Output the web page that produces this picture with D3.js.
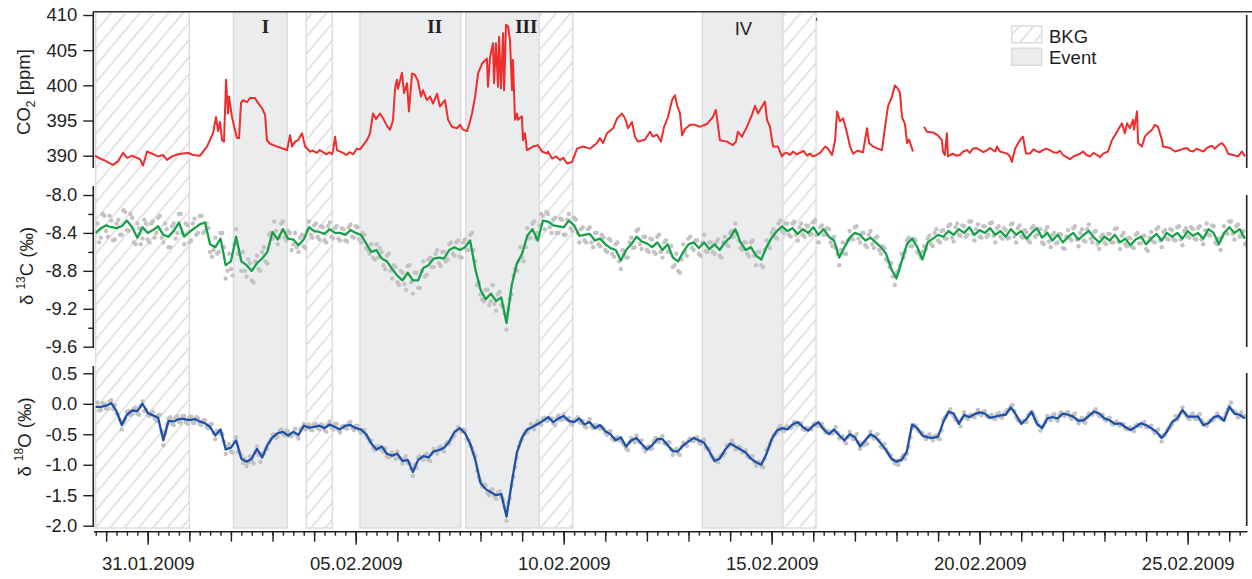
<!DOCTYPE html>
<html><head><meta charset="utf-8">
<script src="https://cdn.jsdelivr.net/npm/d3@7"></script>
<style>html,body{margin:0;padding:0;background:#fff}svg{display:block}</style>
</head><body><svg id="c" width="1252" height="579"></svg>
<script>
// ---------------- DATA ----------------
// time values are hours after 29.01.2009 00:00
const co2Series = [
[17.6,390.0],[20.5,389.6],[23.4,389.3],[26.2,388.9],[28.0,388.7],[30.9,389.2],[33.8,390.4],[36.1,389.7],[38.9,390.0],[43.6,389.5],
[45.3,388.6],[47.6,390.6],[50.5,390.3],[53.9,389.9],[56.8,390.1],[59.1,389.4],[62.0,389.9],[65.5,390.2],[68.4,390.3],[71.3,390.4],
[74.1,390.1],[78.2,390.0],[82.2,391.3],[85.7,393.2],[87.4,395.5],[88.6,393.5],[89.7,394.8],[90.9,392.2],[92.0,392.0],[93.2,400.8],
[94.3,396.0],[94.9,398.4],[96.6,395.5],[97.8,394.2],[99.5,392.5],[100.7,392.5],[101.8,397.5],[103.0,397.9],[105.3,397.6],[107.0,398.2],
[109.9,398.2],[111.6,397.5],[113.9,396.8],[115.7,395.8],[116.8,392.2],[118.6,391.7],[122.6,391.3],[126.0,391.0],[128.4,390.8],[130.1,392.9],
[131.3,391.3],[133.0,392.0],[134.7,392.2],[137.0,393.2],[138.8,391.3],[141.6,390.6],[143.4,390.7],[145.6,390.4],[147.2,390.8],[149.1,390.5],
[151.2,390.2],[152.8,390.5],[154.3,390.2],[154.9,390.6],[156.1,392.7],[157.2,390.8],[160.7,390.4],[162.5,390.1],[164.4,390.5],[166.5,390.2],
[168.7,391.0],[170.5,390.9],[174.5,392.2],[176.3,393.2],[178.0,396.0],[179.7,395.2],
[182.0,396.0],[183.8,395.3],[186.1,394.2],[187.8,393.7],[189.5,395.0],[190.7,399.6],[191.8,400.8],[192.4,399.5],[194.7,401.8],[195.9,398.9],
[197.6,400.3],[198.7,396.3],[200.5,401.7],[202.2,401.5],[203.9,400.6],[205.7,398.4],[206.8,399.3],[209.1,397.9],[210.9,398.4],[212.6,397.4],
[214.9,398.8],[216.6,397.0],[219.5,397.9],[221.3,395.1],[223.5,394.1],[226.4,393.9],[228.2,394.4],[229.9,393.7],[232.2,393.5],[233.4,394.4],
[235.1,396.0],[236.9,398.4],[238.6,401.7],[240.9,403.1],[243.7,403.8],[244.3,399.8],[245.5,404.0],[247.2,406.0],[247.8,400.3],[248.9,406.0],
[250.1,399.8],[250.7,406.9],[251.8,399.6],[253.0,407.4],[253.6,399.3],[254.7,408.6],[255.9,408.4],[257.0,406.4],[258.2,399.3],[258.7,403.6],
[259.9,395.1],[261.0,396.0],[261.6,395.1],[263.9,395.6],[264.5,392.2],[265.6,393.2],[266.8,390.8],[270.3,391.3],[273.1,391.5],[275.5,390.6],
[278.4,390.3],[278.9,390.6],[281.3,389.6],[283.6,389.9],[285.9,389.4],[287.8,389.7],[289.9,388.9],[292.8,389.1],[295.7,391.0],[299.1,391.3],[303.2,391.0],[307.2,391.8],
[308.9,392.5],[310.7,391.8],[313.0,393.2],[316.5,393.9],[318.8,395.3],[321.6,396.0],[323.4,395.3],[325.1,393.9],[327.4,394.8],[329.1,392.7],
[330.9,392.0],[334.9,392.3],[337.8,393.4],[339.5,392.7],[341.8,393.0],[344.1,392.0],[345.9,394.1],[348.2,395.5],[350.5,397.9],[352.2,398.6],
[353.4,397.2],[355.1,396.0],[356.3,392.9],[358.0,393.8],[360.9,394.4],[363.7,394.4],[366.6,394.1],[370.6,394.5],[374.1,395.5],[375.8,396.5],
[378.1,392.2],[382.2,392.0],[385.6,391.5],[387.4,392.0],[388.5,393.4],[390.8,392.7],[393.7,394.1],[396.6,395.8],[398.4,397.1],[400.1,396.0],
[402.4,397.0],[404.1,397.7],[405.3,395.1],[407.0,394.1],[408.8,391.3],[411.6,391.3],[413.9,389.9],[415.2,390.3],[416.8,390.4],[418.5,390.1],
[420.3,390.6],[422.4,390.2],[424.3,390.4],[426.3,390.7],[428.4,390.0],[430.0,390.3],[431.8,389.9],[433.8,390.1],[435.9,390.4],[438.8,391.3],[440.5,391.0],[442.8,390.1],[444.6,392.2],[445.7,396.3],[447.4,394.9],[449.2,395.3],
[451.5,393.2],[453.2,391.3],[455.0,390.3],[457.5,390.7],[460.7,390.5],[463.0,393.9],[464.2,391.8],[466.5,391.3],[469.3,391.0],[471.6,390.8],[473.4,394.1],
[475.1,397.0],[477.4,398.4],[479.1,400.0],[480.9,399.5],[482.0,398.9],[483.2,395.5],[484.9,394.5],[486.1,391.8],[487.2,392.3],[489.0,391.0],
[489.5,390.6],[492.0,null],[495.9,394.1],[497.6,393.4],[501.1,393.3],[503.9,392.9],[506.2,392.2],[506.8,390.6],[507.9,390.1],[509.1,393.2],
[509.7,389.9],[512.5,390.3],[514.4,390.0],[516.6,390.1],[518.5,390.6],[520.6,390.8],[522.3,390.4],[524.1,391.0],[526.0,391.1],[528.2,390.8],[530.2,390.5],[532.2,390.8],[534.0,391.1],[535.7,390.8],[537.0,390.6],[538.0,391.3],[539.7,390.6],
[543.8,390.3],[545.5,389.9],[546.6,389.1],[548.4,391.0],[551.2,392.2],[553.0,392.7],[554.7,390.3],[557.0,390.3],[559.0,390.9],[561.0,390.6],[562.7,390.5],[564.5,390.8],[566.5,391.0],
[568.5,390.8],[570.5,390.5],[572.6,390.4],[574.3,390.7],[576.1,390.1],[578.1,389.8],[580.1,389.5],[582.1,389.9],[584.2,390.1],[586.0,390.3],[587.6,390.6],[589.6,390.1],[591.7,389.9],[593.7,390.4],[595.7,390.1],[597.5,389.8],[599.2,390.3],[602.1,390.6],
[604.3,392.2],[606.1,392.9],[607.8,393.7],[610.1,394.6],[611.8,393.2],[613.0,394.6],[614.7,393.9],[616.5,395.1],[617.0,393.7],[618.8,396.3],
[619.4,391.8],[621.6,391.3],[623.3,392.7],[625.1,393.2],[627.4,393.7],[629.1,394.4],[630.9,394.1],[633.2,392.2],[633.8,391.3],[637.8,391.1],
[640.7,390.6],[643.6,390.8],[645.6,391.0],[647.6,391.1],[649.3,390.7],[651.1,390.6],[653.1,391.0],[655.1,390.8],[657.1,390.6],[659.1,391.1],[660.6,391.3],[662.1,391.4],[663.5,391.0],[664.9,391.3],[666.3,391.6],[667.8,391.8],[669.5,391.3],[671.3,390.3],
[674.2,390.1],[677.1,389.9],[679.3,390.6],[681.1,389.9]
];

// smoothed isotope lines: 3-hour steps starting 29.01 18:00 (hour 18)
const lineStartHour = 18, lineStepHours = 3;
const d13CLine = [
-8.40,-8.35,-8.32,-8.34,-8.35,-8.33,-8.27,-8.34,-8.45,-8.34,
-8.40,-8.37,-8.33,-8.42,-8.44,-8.38,-8.29,-8.44,-8.39,-8.35,
-8.31,-8.29,-8.52,-8.55,-8.46,-8.74,-8.70,-8.44,-8.70,-8.74,
-8.80,-8.72,-8.67,-8.60,-8.39,-8.47,-8.36,-8.46,-8.47,-8.53,
-8.47,-8.34,-8.38,-8.39,-8.41,-8.36,-8.40,-8.40,-8.42,-8.37,
-8.40,-8.42,-8.51,-8.60,-8.58,-8.67,-8.70,-8.78,-8.85,-8.90,
-8.82,-8.90,-8.90,-8.77,-8.74,-8.67,-8.66,-8.67,-8.58,-8.55,
-8.58,-8.55,-8.48,-8.78,-9.00,-9.10,-9.04,-9.12,-9.08,-9.35,
-8.95,-8.72,-8.62,-8.43,-8.36,-8.48,-8.27,-8.28,-8.32,-8.33,
-8.34,-8.27,-8.32,-8.43,-8.42,-8.41,-8.48,-8.46,-8.52,-8.56,
-8.58,-8.69,-8.58,-8.52,-8.44,-8.49,-8.51,-8.55,-8.50,-8.58,
-8.52,-8.66,-8.70,-8.60,-8.52,-8.50,-8.56,-8.50,-8.57,-8.52,
-8.58,-8.50,-8.45,-8.36,-8.50,-8.58,-8.55,-8.64,-8.68,-8.55,
-8.45,-8.38,-8.33,-8.38,-8.35,-8.41,-8.36,-8.40,-8.34,-8.42,
-8.36,-8.44,-8.48,-8.66,-8.55,-8.45,-8.40,-8.42,-8.48,-8.45,
-8.50,-8.55,-8.62,-8.78,-8.88,-8.70,-8.52,-8.46,-8.55,-8.68,
-8.50,-8.46,-8.42,-8.44,-8.38,-8.42,-8.36,-8.40,-8.34,-8.42,
-8.37,-8.40,-8.35,-8.42,-8.38,-8.44,-8.36,-8.42,-8.38,-8.46,
-8.40,-8.35,-8.45,-8.40,-8.48,-8.42,-8.50,-8.44,-8.40,-8.47,
-8.42,-8.38,-8.45,-8.50,-8.44,-8.48,-8.42,-8.50,-8.46,-8.53,
-8.47,-8.44,-8.52,-8.46,-8.41,-8.48,-8.40,-8.44,-8.40,-8.46,
-8.38,-8.43,-8.40,-8.46,-8.36,-8.40,-8.52,-8.40,-8.34,-8.40,
-8.36,-8.46
];
const d18OLine = [
-0.05,-0.05,-0.03,0.01,-0.12,-0.35,-0.18,-0.11,-0.12,0.00,
-0.15,-0.19,-0.23,-0.60,-0.28,-0.29,-0.25,-0.25,-0.27,-0.25,
-0.29,-0.32,-0.38,-0.52,-0.42,-0.75,-0.72,-0.60,-0.90,-0.95,
-0.90,-0.74,-0.88,-0.68,-0.55,-0.48,-0.46,-0.52,-0.46,-0.51,
-0.36,-0.39,-0.38,-0.36,-0.40,-0.34,-0.38,-0.42,-0.36,-0.35,
-0.40,-0.42,-0.50,-0.65,-0.75,-0.70,-0.82,-0.85,-0.82,-0.94,
-0.92,-1.12,-0.92,-0.86,-0.88,-0.78,-0.76,-0.72,-0.62,-0.46,
-0.40,-0.48,-0.65,-0.92,-1.30,-1.40,-1.45,-1.50,-1.48,-1.85,
-1.30,-0.80,-0.55,-0.42,-0.38,-0.33,-0.28,-0.22,-0.30,-0.24,
-0.20,-0.28,-0.30,-0.24,-0.34,-0.30,-0.40,-0.35,-0.45,-0.50,
-0.60,-0.55,-0.70,-0.60,-0.56,-0.66,-0.75,-0.68,-0.58,-0.58,
-0.68,-0.78,-0.78,-0.68,-0.62,-0.56,-0.60,-0.64,-0.78,-0.94,
-0.90,-0.76,-0.65,-0.70,-0.75,-0.80,-0.90,-0.96,-1.00,-0.82,
-0.58,-0.44,-0.40,-0.42,-0.34,-0.30,-0.38,-0.44,-0.36,-0.30,
-0.42,-0.50,-0.42,-0.52,-0.60,-0.50,-0.55,-0.70,-0.60,-0.50,
-0.55,-0.65,-0.76,-0.90,-0.95,-0.92,-0.78,-0.34,-0.40,-0.52,
-0.55,-0.56,-0.54,-0.30,-0.13,-0.16,-0.33,-0.18,-0.22,-0.17,
-0.14,-0.16,-0.23,-0.21,-0.19,-0.18,-0.06,-0.18,-0.33,-0.25,
-0.13,-0.33,-0.40,-0.24,-0.22,-0.24,-0.16,-0.18,-0.21,-0.28,
-0.27,-0.20,-0.13,-0.16,-0.24,-0.27,-0.33,-0.32,-0.38,-0.43,
-0.38,-0.32,-0.35,-0.40,-0.46,-0.56,-0.46,-0.30,-0.24,-0.10,
-0.21,-0.21,-0.21,-0.35,-0.32,-0.22,-0.20,-0.28,-0.05,-0.16,
-0.18,-0.24
];

// raw measurements (grey dots): 2-hour steps, set A from hour 19, set B from hour 20
const dotStartHourA = 19, dotStartHourB = 20, dotStepHours = 2;
const d13CDotsA = [
-8.30,-8.45,-8.22,-8.44,-8.27,-8.47,-8.26,-8.42,-8.18,-8.38,-8.24,-8.52,-8.35,-8.46,-8.30,
-8.50,-8.28,-8.40,-8.22,-8.50,-8.36,-8.55,-8.30,-8.40,-8.20,-8.52,-8.32,-8.48,-8.25,-8.40,
-8.22,-8.38,-8.35,-8.65,-8.45,-8.60,-8.40,-8.88,-8.62,-8.85,-8.36,-8.62,-8.60,-8.86,-8.72,
-8.92,-8.64,-8.80,-8.55,-8.72,-8.40,-8.28,-8.52,-8.30,-8.45,-8.38,-8.58,-8.40,-8.60,-8.42,
-8.56,-8.28,-8.45,-8.30,-8.47,-8.34,-8.50,-8.29,-8.46,-8.33,-8.48,-8.36,-8.49,-8.31,-8.45,
-8.34,-8.50,-8.42,-8.58,-8.52,-8.68,-8.66,-8.60,-8.78,-8.62,-8.88,-8.76,-8.95,-8.82,-9.00,
-8.74,-9.04,-8.82,-8.98,-8.70,-8.84,-8.66,-8.76,-8.58,-8.75,-8.60,-8.68,-8.50,-8.64,-8.48,
-8.66,-8.47,-8.58,-8.40,-8.70,-8.92,-9.10,-9.00,-9.16,-8.95,-9.22,-9.02,-9.18,-9.42,-9.10,
-8.85,-8.80,-8.55,-8.70,-8.35,-8.45,-8.28,-8.40,-8.20,-8.36,-8.20,-8.40,-8.24,-8.40,-8.26,
-8.42,-8.20,-8.38,-8.26,-8.50,-8.34,-8.50,-8.34,-8.55,-8.40,-8.54,-8.45,-8.60,-8.48,-8.65,
-8.50,-8.78,-8.62,-8.66,-8.45,-8.55,-8.36,-8.57,-8.44,-8.60,-8.47,-8.62,-8.42,-8.66,-8.48,
-8.60,-8.76,-8.62,-8.82,-8.52,-8.64,-8.44,-8.58,-8.48,-8.64,-8.42,-8.60,-8.50,-8.62,-8.47,
-8.66,-8.44,-8.54,-8.38,-8.30,-8.48,-8.58,-8.50,-8.65,-8.48,-8.74,-8.60,-8.76,-8.48,-8.56,
-8.36,-8.46,-8.27,-8.40,-8.30,-8.44,-8.28,-8.48,-8.30,-8.44,-8.33,-8.41,-8.27,-8.50,-8.32,
-8.42,-8.36,-8.54,-8.56,-8.74,-8.50,-8.62,-8.38,-8.47,-8.33,-8.50,-8.40,-8.55,-8.38,-8.56,
-8.44,-8.62,-8.56,-8.70,-8.72,-8.95,-8.80,-8.62,-8.60,-8.45,-8.54,-8.48,-8.62,-8.60,-8.57,
-8.43,-8.54,-8.36,-8.50,-8.37,-8.46,-8.31,-8.49,-8.30,-8.43,-8.33,-8.42,-8.28,-8.48,-8.31,
-8.45,-8.33,-8.42,-8.29,-8.50,-8.33,-8.46,-8.37,-8.45,-8.30,-8.50,-8.32,-8.45,-8.39,-8.50,
-8.33,-8.42,-8.36,-8.52,-8.34,-8.55,-8.40,-8.50,-8.42,-8.57,-8.37,-8.48,-8.33,-8.54,-8.36,
-8.49,-8.31,-8.50,-8.38,-8.57,-8.42,-8.52,-8.41,-8.50,-8.35,-8.57,-8.40,-8.54,-8.46,-8.56,
-8.40,-8.51,-8.43,-8.59,-8.39,-8.50,-8.34,-8.55,-8.37,-8.47,-8.37,-8.48,-8.33,-8.53,-8.35,
-8.45,-8.36,-8.47,-8.33,-8.52,-8.30,-8.43,-8.33,-8.52,-8.58,-8.33,-8.41,-8.28,-8.47,-8.31,
-8.43,-8.52,-8.40
];
const d13CDotsB = [
-8.50,-8.20,-8.38,-8.22,-8.48,-8.30,-8.42,-8.16,-8.37,-8.20,-8.50,-8.30,-8.52,-8.26,-8.47,
-8.30,-8.45,-8.24,-8.45,-8.30,-8.55,-8.33,-8.46,-8.20,-8.40,-8.30,-8.50,-8.30,-8.42,-8.22,
-8.40,-8.30,-8.60,-8.58,-8.62,-8.40,-8.55,-8.80,-8.78,-8.52,-8.62,-8.80,-8.80,-8.68,-8.90,
-8.70,-8.78,-8.60,-8.70,-8.42,-8.46,-8.38,-8.45,-8.28,-8.48,-8.40,-8.52,-8.55,-8.45,-8.54,
-8.38,-8.42,-8.32,-8.44,-8.33,-8.48,-8.33,-8.44,-8.35,-8.46,-8.35,-8.48,-8.34,-8.44,-8.33,
-8.47,-8.40,-8.56,-8.62,-8.66,-8.52,-8.56,-8.74,-8.64,-8.80,-8.74,-8.92,-8.80,-8.94,-8.75,
-8.92,-8.82,-8.98,-8.80,-8.86,-8.68,-8.76,-8.62,-8.72,-8.60,-8.70,-8.52,-8.62,-8.50,-8.65,
-8.50,-8.58,-8.42,-8.58,-8.95,-9.05,-9.12,-9.00,-9.12,-9.15,-9.05,-9.16,-9.25,-9.20,-9.05,
-8.78,-8.70,-8.66,-8.55,-8.46,-8.30,-8.46,-8.32,-8.22,-8.18,-8.34,-8.26,-8.40,-8.25,-8.42,
-8.26,-8.35,-8.24,-8.40,-8.36,-8.48,-8.36,-8.50,-8.40,-8.52,-8.42,-8.58,-8.46,-8.62,-8.52,
-8.70,-8.58,-8.66,-8.50,-8.56,-8.38,-8.52,-8.44,-8.58,-8.46,-8.60,-8.44,-8.60,-8.50,-8.60,
-8.54,-8.74,-8.80,-8.68,-8.60,-8.46,-8.56,-8.48,-8.62,-8.50,-8.59,-8.50,-8.60,-8.50,-8.64,
-8.50,-8.52,-8.40,-8.44,-8.40,-8.56,-8.50,-8.62,-8.50,-8.64,-8.60,-8.74,-8.58,-8.54,-8.40,
-8.44,-8.30,-8.38,-8.30,-8.42,-8.30,-8.42,-8.34,-8.42,-8.32,-8.42,-8.29,-8.42,-8.34,-8.42,
-8.35,-8.50,-8.44,-8.62,-8.58,-8.62,-8.48,-8.46,-8.34,-8.46,-8.40,-8.53,-8.42,-8.52,-8.45,
-8.58,-8.54,-8.68,-8.76,-8.86,-8.82,-8.74,-8.66,-8.48,-8.54,-8.46,-8.60,-8.66,-8.54,-8.46,
-8.52,-8.40,-8.48,-8.38,-8.46,-8.33,-8.45,-8.34,-8.42,-8.32,-8.44,-8.28,-8.41,-8.36,-8.44,
-8.33,-8.44,-8.30,-8.43,-8.35,-8.44,-8.35,-8.46,-8.31,-8.44,-8.35,-8.44,-8.37,-8.48,-8.35,
-8.44,-8.36,-8.50,-8.38,-8.49,-8.42,-8.51,-8.41,-8.56,-8.44,-8.46,-8.35,-8.47,-8.40,-8.48,
-8.36,-8.46,-8.39,-8.52,-8.44,-8.50,-8.41,-8.50,-8.36,-8.49,-8.43,-8.52,-8.45,-8.55,-8.42,
-8.51,-8.44,-8.57,-8.45,-8.49,-8.36,-8.48,-8.39,-8.46,-8.36,-8.47,-8.34,-8.47,-8.38,-8.44,
-8.34,-8.46,-8.35,-8.47,-8.37,-8.42,-8.32,-8.50,-8.46,-8.44,-8.40,-8.28,-8.41,-8.33,-8.44,
-8.38,-8.50,-8.42
];
const d18ODotsA = [
0.02,-0.10,0.00,-0.08,0.06,-0.02,-0.18,-0.42,-0.24,-0.12,-0.17,-0.06,-0.18,0.04,-0.10,
-0.20,-0.13,-0.28,-0.18,-0.68,-0.34,-0.22,-0.35,-0.20,-0.31,-0.20,-0.33,-0.21,-0.31,-0.24,
-0.35,-0.27,-0.40,-0.33,-0.58,-0.46,-0.50,-0.82,-0.66,-0.80,-0.55,-0.80,-0.97,-1.02,-0.86,
-0.98,-0.70,-0.95,-0.82,-0.74,-0.58,-0.50,-0.54,-0.42,-0.52,-0.46,-0.53,-0.41,-0.57,-0.40,
-0.42,-0.34,-0.44,-0.33,-0.42,-0.35,-0.46,-0.30,-0.42,-0.33,-0.47,-0.36,-0.41,-0.30,-0.43,
-0.36,-0.48,-0.43,-0.56,-0.60,-0.76,-0.70,-0.76,-0.73,-0.88,-0.80,-0.90,-0.88,-0.98,-0.86,
-0.98,-1.18,-1.05,-0.86,-0.92,-0.82,-0.94,-0.74,-0.82,-0.70,-0.78,-0.63,-0.58,-0.52,-0.38,
-0.46,-0.44,-0.60,-0.72,-0.86,-1.20,-1.36,-1.34,-1.50,-1.40,-1.56,-1.44,-1.58,-1.92,-1.55,
-1.20,-0.88,-0.62,-0.50,-0.47,-0.33,-0.42,-0.28,-0.34,-0.23,-0.27,-0.24,-0.35,-0.19,-0.26,
-0.25,-0.23,-0.35,-0.26,-0.30,-0.28,-0.39,-0.25,-0.40,-0.35,-0.41,-0.40,-0.51,-0.45,-0.60,
-0.55,-0.60,-0.68,-0.76,-0.56,-0.63,-0.61,-0.60,-0.78,-0.70,-0.73,-0.56,-0.63,-0.53,-0.66,
-0.63,-0.84,-0.74,-0.84,-0.64,-0.69,-0.57,-0.61,-0.55,-0.66,-0.59,-0.74,-0.84,-0.90,-0.96,
-0.84,-0.81,-0.70,-0.60,-0.75,-0.70,-0.80,-0.76,-0.88,-0.86,-1.02,-0.95,-1.04,-0.76,-0.66,
-0.52,-0.48,-0.36,-0.45,-0.37,-0.40,-0.30,-0.35,-0.32,-0.43,-0.40,-0.42,-0.32,-0.35,-0.33,
-0.47,-0.45,-0.49,-0.38,-0.57,-0.53,-0.65,-0.46,-0.58,-0.50,-0.74,-0.68,-0.66,-0.46,-0.57,
-0.50,-0.70,-0.66,-0.80,-0.85,-0.98,-1.00,-0.88,-0.90,-0.70,-0.40,-0.36,-0.45,-0.48,-0.58,
-0.50,-0.60,-0.52,-0.58,-0.26,-0.19,-0.09,-0.21,-0.26,-0.37,-0.14,-0.25,-0.18,-0.22,-0.10,
-0.19,-0.12,-0.22,-0.18,-0.25,-0.15,-0.23,-0.13,-0.09,-0.02,-0.22,-0.28,-0.28,-0.30,-0.16,
-0.18,-0.29,-0.44,-0.35,-0.20,-0.27,-0.17,-0.28,-0.14,-0.20,-0.14,-0.25,-0.16,-0.32,-0.23,
-0.31,-0.16,-0.18,-0.09,-0.20,-0.18,-0.28,-0.23,-0.34,-0.29,-0.36,-0.33,-0.42,-0.39,-0.45,
-0.34,-0.37,-0.30,-0.39,-0.36,-0.48,-0.42,-0.62,-0.51,-0.40,-0.34,-0.20,-0.20,-0.06,-0.18,
-0.25,-0.16,-0.25,-0.17,-0.31,-0.36,-0.27,-0.26,-0.16,-0.24,-0.23,-0.10,0.02,-0.12,-0.22,
-0.14,-0.20,-0.28
];
const d18ODotsB = [
-0.11,0.01,-0.08,0.04,-0.09,-0.16,-0.26,-0.30,-0.13,-0.19,-0.08,-0.16,-0.03,-0.12,-0.19,
-0.14,-0.24,-0.19,-0.45,-0.48,-0.24,-0.33,-0.24,-0.30,-0.20,-0.30,-0.22,-0.31,-0.22,-0.33,
-0.27,-0.38,-0.34,-0.48,-0.44,-0.49,-0.62,-0.70,-0.78,-0.62,-0.79,-0.85,-0.90,-0.96,-0.94,
-0.80,-0.84,-0.82,-0.74,-0.64,-0.51,-0.56,-0.44,-0.50,-0.44,-0.53,-0.48,-0.52,-0.42,-0.33,
-0.36,-0.42,-0.34,-0.40,-0.34,-0.43,-0.35,-0.39,-0.33,-0.43,-0.37,-0.40,-0.32,-0.40,-0.36,
-0.44,-0.45,-0.52,-0.62,-0.72,-0.70,-0.74,-0.79,-0.86,-0.86,-0.84,-0.78,-0.90,-0.90,-0.97,
-1.06,-1.00,-0.88,-0.90,-0.84,-0.92,-0.82,-0.78,-0.72,-0.76,-0.66,-0.66,-0.55,-0.45,-0.42,
-0.42,-0.58,-0.68,-0.80,-1.10,-1.26,-1.32,-1.46,-1.42,-1.52,-1.46,-1.53,-1.70,-1.62,-1.34,
-1.04,-0.70,-0.58,-0.45,-0.42,-0.36,-0.33,-0.33,-0.24,-0.28,-0.24,-0.32,-0.24,-0.26,-0.17,
-0.26,-0.31,-0.27,-0.22,-0.32,-0.37,-0.30,-0.37,-0.35,-0.40,-0.38,-0.48,-0.46,-0.57,-0.56,
-0.60,-0.64,-0.73,-0.63,-0.60,-0.52,-0.63,-0.72,-0.71,-0.74,-0.61,-0.62,-0.56,-0.65,-0.64,
-0.75,-0.76,-0.82,-0.71,-0.67,-0.60,-0.61,-0.56,-0.63,-0.60,-0.72,-0.74,-0.88,-0.94,-0.86,
-0.85,-0.68,-0.68,-0.66,-0.74,-0.72,-0.79,-0.86,-0.86,-0.95,-0.97,-1.02,-0.90,-0.72,-0.60,
-0.50,-0.40,-0.44,-0.40,-0.40,-0.36,-0.34,-0.32,-0.41,-0.40,-0.41,-0.34,-0.36,-0.37,-0.40,
-0.44,-0.48,-0.45,-0.48,-0.55,-0.62,-0.55,-0.52,-0.54,-0.63,-0.65,-0.62,-0.54,-0.53,-0.52,
-0.60,-0.72,-0.75,-0.84,-0.92,-0.93,-0.93,-0.84,-0.82,-0.55,-0.35,-0.42,-0.47,-0.54,-0.52,
-0.56,-0.53,-0.57,-0.44,-0.22,-0.15,-0.16,-0.26,-0.30,-0.24,-0.21,-0.19,-0.21,-0.16,-0.17,
-0.13,-0.20,-0.19,-0.24,-0.17,-0.22,-0.17,-0.10,-0.04,-0.12,-0.27,-0.30,-0.30,-0.18,-0.14,
-0.24,-0.35,-0.38,-0.30,-0.25,-0.19,-0.25,-0.18,-0.19,-0.15,-0.21,-0.18,-0.26,-0.27,-0.30,
-0.22,-0.17,-0.12,-0.16,-0.21,-0.26,-0.24,-0.31,-0.31,-0.34,-0.34,-0.40,-0.41,-0.42,-0.36,
-0.36,-0.32,-0.38,-0.37,-0.44,-0.44,-0.52,-0.53,-0.44,-0.39,-0.28,-0.26,-0.15,-0.15,-0.23,
-0.19,-0.24,-0.19,-0.27,-0.35,-0.30,-0.28,-0.21,-0.22,-0.25,-0.16,-0.04,-0.11,-0.16,-0.20,
-0.21,-0.22,-0.26
];

// shaded periods [start hour, end hour]
const bkgPeriods = [[18,72],[139.5,154.5],[273.9,293.2],[414.3,433.6]];
const eventPeriods = [[97.5,128.5],[170.5,228.6],[231.5,273.9],[368,414.3]];
const eventLabels = ["I","II","III","IV"];

const co2Ticks = [390,395,400,405,410];
const d13CTicks = [-8.0,-8.4,-8.8,-9.2,-9.6];
const d13CMinorTicks = [-8.2,-8.6,-9.0,-9.4];
const d18OTicks = [0.5,0.0,-0.5,-1.0,-1.5,-2.0];
const dateLabelDays = ["2009-01-31","2009-02-05","2009-02-10","2009-02-15","2009-02-20","2009-02-25"];

// ---------------- DRAW ----------------
const base = new Date(2009,0,29,0,0,0);
const hd = h => new Date(base.getTime() + h*3600e3);
const FONT = "'Liberation Sans', Arial, Helvetica, sans-serif";
const INK = "#231f20";
const FS = 18.5;

const svg = d3.select("#c");
const x = d3.scaleTime().domain([hd(17), hd(682)]).range([94, 1246.6]);
const yCO2 = d3.scaleLinear().domain([390,410]).range([155.7,15]);
const y13 = d3.scaleLinear().domain([-9.6,-8.0]).range([346.7,195]);
const y18 = d3.scaleLinear().domain([-2.0,0.5]).range([525.7,373.3]);

const defs = svg.append("defs");
const pat = defs.append("pattern").attr("id","hatch").attr("patternUnits","userSpaceOnUse")
  .attr("width",11).attr("height",11).attr("patternTransform","rotate(40)");
pat.append("rect").attr("width",11).attr("height",11).attr("fill","#fff");
pat.append("line").attr("x1",5.5).attr("x2",5.5).attr("y1",-1).attr("y2",12)
  .attr("stroke","#d9d9d9").attr("stroke-width",1.4);
defs.append("clipPath").attr("id","clip").append("rect")
  .attr("x",94).attr("y",0).attr("width",1246.6-94).attr("height",579);

const regTop = 12, regBot = 528;
const gReg = svg.append("g");
gReg.selectAll("rect.bkg").data(bkgPeriods).join("rect").attr("class","bkg")
  .attr("x",d=>x(hd(d[0]))).attr("width",d=>x(hd(d[1]))-x(hd(d[0])))
  .attr("y",regTop).attr("height",regBot-regTop)
  .attr("fill","url(#hatch)").attr("stroke","#dcdcdc").attr("stroke-width",1.5);
gReg.selectAll("rect.ev").data(eventPeriods).join("rect").attr("class","ev")
  .attr("x",d=>x(hd(d[0]))).attr("width",d=>x(hd(d[1]))-x(hd(d[0])))
  .attr("y",regTop).attr("height",regBot-regTop)
  .attr("fill","#ebecee").attr("stroke","#dcdcdc").attr("stroke-width",1.5);

// event labels
gReg.selectAll("text.evl").data(eventPeriods).join("text").attr("class","evl")
  .attr("x",(d,i)=> i===0 ? x(hd(d[0]))+32 : i===1 ? x(hd(d[1]))-26 : i===2 ? x(hd(d[1]))-13 : (x(hd(d[0]))+x(hd(d[1])))/2+1)
  .attr("y",(d,i)=> i===3 ? 35 : 32.7)
  .attr("text-anchor","middle")
  .attr("font-family",(d,i)=> i===3 ? FONT : "'Liberation Serif','Times New Roman',serif")
  .attr("font-weight",(d,i)=> i===3 ? "normal" : "bold")
  .attr("font-size",(d,i)=> i===3 ? 18.5 : 19)
  .attr("fill",INK)
  .text((d,i)=>eventLabels[i]);

const gData = svg.append("g").attr("clip-path","url(#clip)");

// dots
function dotLayer(arr, start, yS){
  const pts = arr.map((v,i)=>({t:hd(start+i*dotStepHours), v}));
  gData.append("g").selectAll("circle").data(pts).join("circle")
    .attr("cx",d=>x(d.t)).attr("cy",d=>yS(d.v)).attr("r",2.2).attr("fill","#c3c3c3");
}
dotLayer(d13CDotsA, dotStartHourA, y13);
dotLayer(d13CDotsB, dotStartHourB, y13);
dotLayer(d18ODotsA, dotStartHourA, y18);
dotLayer(d18ODotsB, dotStartHourB, y18);

// lines
const co2Data = co2Series.map(d=>({t:hd(d[0]), v:d[1]}));
gData.append("path").datum(co2Data)
  .attr("d", d3.line().defined(d=>d.v!==null).x(d=>x(d.t)).y(d=>yCO2(d.v)))
  .attr("fill","none").attr("stroke","#ee2d2d").attr("stroke-width",2).attr("stroke-linejoin","round");
const l13 = d13CLine.map((v,i)=>({t:hd(lineStartHour+i*lineStepHours), v}));
const l18 = d18OLine.map((v,i)=>({t:hd(lineStartHour+i*lineStepHours), v}));
gData.append("path").datum(l13)
  .attr("d", d3.line().x(d=>x(d.t)).y(d=>y13(d.v)))
  .attr("fill","none").attr("stroke","#16a048").attr("stroke-width",2.3).attr("stroke-linejoin","round");
gData.append("path").datum(l18)
  .attr("d", d3.line().x(d=>x(d.t)).y(d=>y18(d.v)))
  .attr("fill","none").attr("stroke","#1f50a8").attr("stroke-width",2.3).attr("stroke-linejoin","round");

// frame lines
const AXX = 93.3, RX = 1246.7;
svg.append("line").attr("x1",93).attr("x2",1252).attr("y1",11.7).attr("y2",11.7).attr("stroke","#333").attr("stroke-width",1.6);
svg.append("line").attr("x1",816.5).attr("x2",817).attr("y1",18).attr("y2",21).attr("stroke","#333").attr("stroke-width",1);

function yAxis(scale, ticks, fmt, top, bottom, rTop, rBot, minor){
  const g = svg.append("g").attr("transform",`translate(${AXX},0)`);
  g.call(d3.axisLeft(scale).tickValues(ticks).tickSize(10).tickPadding(6).tickFormat(fmt));
  g.select(".domain").remove();
  g.selectAll(".tick line").attr("stroke",INK).attr("stroke-width",1.4);
  g.selectAll(".tick text").attr("font-family",FONT).attr("font-size",FS).attr("fill",INK);
  if (minor) {
    const m = svg.append("g").attr("transform",`translate(${AXX},0)`);
    m.call(d3.axisLeft(scale).tickValues(minor).tickSize(5).tickFormat(""));
    m.select(".domain").remove();
    m.selectAll("line").attr("stroke",INK).attr("stroke-width",1.4);
  }
  svg.append("line").attr("x1",AXX).attr("x2",AXX).attr("y1",top).attr("y2",bottom).attr("stroke",INK).attr("stroke-width",1.6);
  svg.append("line").attr("x1",RX).attr("x2",RX).attr("y1",rTop).attr("y2",rBot).attr("stroke",INK).attr("stroke-width",1.6);
}
yAxis(yCO2, co2Ticks, d=>String(d), 11.7, 168, 15, 168, null);
yAxis(y13, d13CTicks, d=>d.toFixed(1), 186, 348, 195, 347, d13CMinorTicks);
yAxis(y18, d18OTicks, d=>d.toFixed(1), 366, 527, 373, 526, null);

// x axis
const XY = 531.7;
function xAxisLayer(tickVals, size, labels){
  const g = svg.append("g").attr("transform",`translate(0,${XY})`);
  g.call(d3.axisBottom(x).tickValues(tickVals).tickSize(size).tickSizeOuter(0).tickPadding(12)
    .tickFormat(labels ? d3.timeFormat("%d.%m.%Y") : ""));
  g.select(".domain").remove();
  g.selectAll(".tick line").attr("stroke",INK).attr("stroke-width",1.4);
  g.selectAll(".tick text").attr("font-family",FONT).attr("font-size",FS).attr("fill",INK);
}
const [d0,d1] = x.domain();
xAxisLayer(d3.timeHour.every(6).range(d0,d1), 4, false);
xAxisLayer(d3.timeDay.every(1).range(d0,d1), 10, false);
xAxisLayer(dateLabelDays.map(s=>{const p=s.split("-");return new Date(+p[0],+p[1]-1,+p[2]);}), 13, true);
svg.append("line").attr("x1",94).attr("x2",1247.4).attr("y1",XY).attr("y2",XY).attr("stroke",INK).attr("stroke-width",1.6);

// axis titles
function title(tx, ty, build){
  const t = svg.append("text").attr("transform",`translate(${tx},${ty}) rotate(-90)`)
    .attr("text-anchor","middle").attr("font-family",FONT).attr("font-size",FS).attr("fill",INK);
  build(t);
}
title(30, 92, t=>{
  t.append("tspan").text("CO");
  t.append("tspan").attr("font-size",12).attr("dy",5).text("2");
  t.append("tspan").attr("dy",-5).text(" [ppm]");
});
title(33, 266, t=>{
  t.append("tspan").text("δ ");
  t.append("tspan").attr("font-size",12).attr("dy",-8).text("13");
  t.append("tspan").attr("dy",8).text("C (‰)");
});
title(31, 437, t=>{
  t.append("tspan").text("δ ");
  t.append("tspan").attr("font-size",12).attr("dy",-8).text("18");
  t.append("tspan").attr("dy",8).text("O (‰)");
});

// legend
const lg = svg.append("g");
lg.append("rect").attr("x",1011.7).attr("y",26).attr("width",30).attr("height",16.7)
  .attr("fill","url(#hatch)").attr("stroke","#dcdcdc").attr("stroke-width",1.5);
lg.append("rect").attr("x",1011.7).attr("y",48.3).attr("width",30).attr("height",17)
  .attr("fill","#ebecee").attr("stroke","#dcdcdc").attr("stroke-width",1.5);
lg.append("text").attr("x",1049).attr("y",43.3).attr("font-family",FONT).attr("font-size",FS).attr("fill",INK).text("BKG");
lg.append("text").attr("x",1049).attr("y",64.3).attr("font-family",FONT).attr("font-size",FS).attr("fill",INK).text("Event");
</script></body></html>
